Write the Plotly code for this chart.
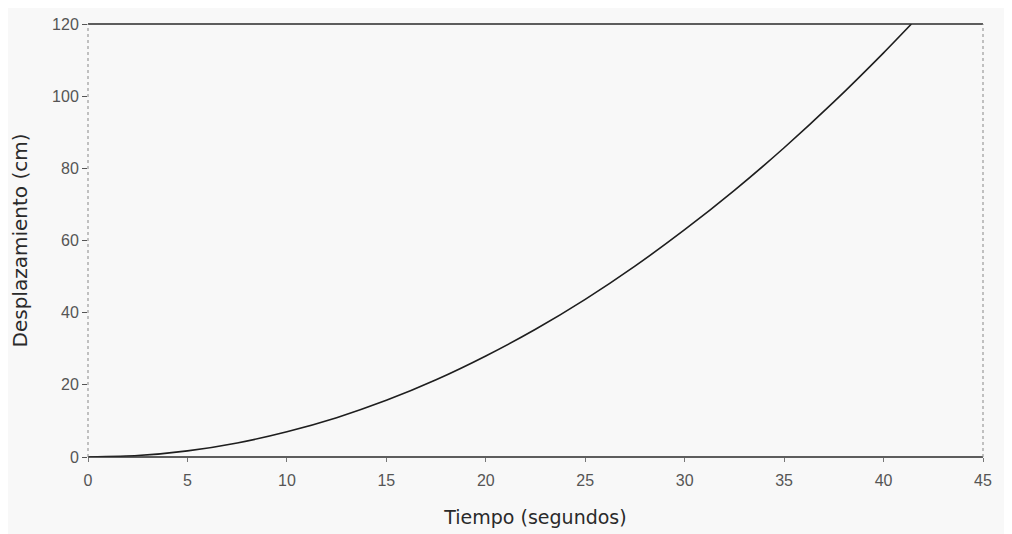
import plotly.graph_objects as go

tiempo = [0, 2.5, 5, 7.5, 10, 12.5, 15, 17.5, 20, 22.5, 25, 27.5, 30, 32.5, 35, 37.5, 40, 41.4]
desplazamiento = [0, 0.4, 1.7, 3.9, 7.0, 10.9, 15.7, 21.4, 28.0, 35.4, 43.7, 52.9, 63.0, 73.9, 85.7, 98.4, 112.0, 120.0]
x_ticks = [0, 5, 10, 15, 20, 25, 30, 35, 40, 45]
y_ticks = [0, 20, 40, 60, 80, 100, 120]

bg = "#f8f8f8"
tick_font = "Liberation Sans, Arial, sans-serif"
title_font = "DejaVu Sans, Verdana, sans-serif"

fig = go.Figure()
fig.add_trace(go.Scatter(
    x=tiempo, y=desplazamiento, mode="lines",
    line=dict(color="#1e1e1e", width=1.6, shape="spline", smoothing=0.6),
    showlegend=False, hoverinfo="skip",
))

fig.update_layout(
    width=1012, height=534,
    margin=dict(l=80, r=37, t=16, b=85),
    paper_bgcolor=bg, plot_bgcolor=bg,
    font=dict(family=tick_font, color="#333333", size=15),
    xaxis=dict(
        range=[0, 45], tickvals=x_ticks, showgrid=False, zeroline=False,
        automargin=False,
        ticks="outside", ticklen=4, tickcolor="#777777", tickwidth=1,
        ticklabelstandoff=5,
        tickfont=dict(family=tick_font, size=16, color="#555555"),
        title=dict(text="Tiempo (segundos)",
                   font=dict(family=title_font, size=19, color="#2a2a2a"), standoff=22),
        showline=False,
    ),
    yaxis=dict(
        range=[0, 120], tickvals=y_ticks, showgrid=False, zeroline=False,
        automargin=False,
        ticks="outside", ticklen=5, tickcolor="#555555", tickwidth=1.2,
        tickfont=dict(family=tick_font, size=16, color="#555555"),
        title=dict(text="Desplazamiento (cm)",
                   font=dict(family=title_font, size=20, color="#2a2a2a"), standoff=20),
        showline=False,
    ),
    shapes=[
        dict(type="line", xref="paper", yref="paper", x0=0, x1=1, y0=0, y1=0,
             line=dict(color="#2a2a2a", width=1.6)),
        dict(type="line", xref="paper", yref="paper", x0=0, x1=1, y0=1, y1=1,
             line=dict(color="#2a2a2a", width=1.6)),
        dict(type="line", xref="paper", yref="paper", x0=0, x1=0, y0=0, y1=1,
             line=dict(color="#888888", width=1, dash="dot")),
        dict(type="line", xref="paper", yref="paper", x0=1, x1=1, y0=0, y1=1,
             line=dict(color="#888888", width=1, dash="dot")),
    ],
)

fig.write_html("out.html")
